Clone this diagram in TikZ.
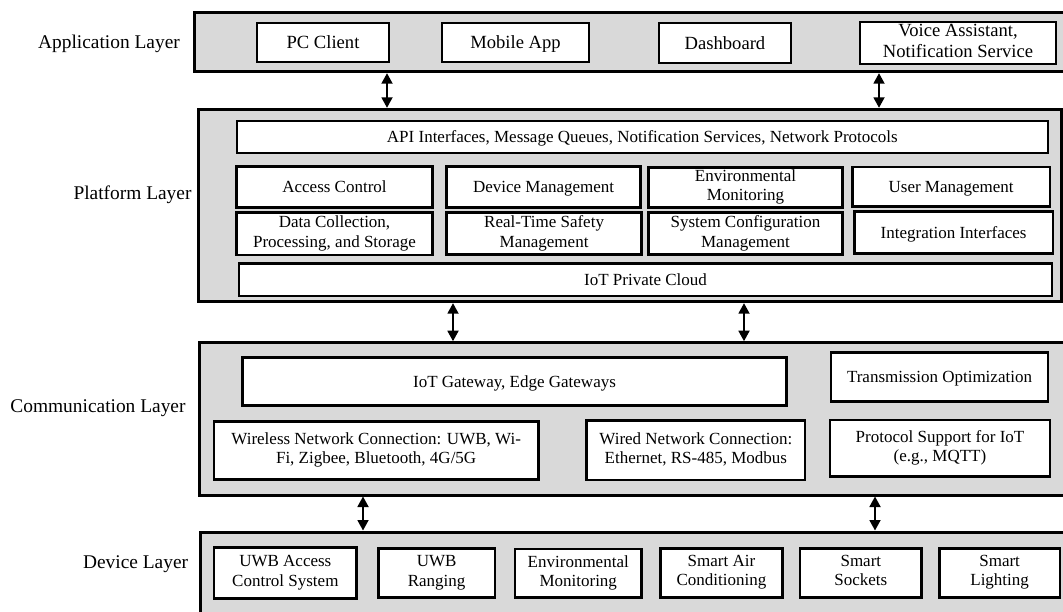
\documentclass[tikz,border=0pt]{standalone}
\usepackage{fontspec}
\setmainfont{Liberation Serif}
\usetikzlibrary{arrows.meta}

% \blk[style]{name}{x1}{y1}{x2}{y2}{text}: a box given by its corners
\newcommand\blk[7][item]{%
  \node[#1,minimum width={(#5-#3)*1pt},minimum height={(#6-#4)*1pt}]
    (#2) at ({(#3+#5)/2},{(#4+#6)/2}) {#7};}
% strut that centres the capitals of a line in its box
\newcommand\tstr{\rule[-0.25em]{0pt}{1.15em}}

\begin{document}
\begin{tikzpicture}[x=1pt,y=-1pt,
  layer/.style={draw=black,line width=3pt,fill=laygray,inner sep=0pt},
  item/.style={draw=black,line width=2.8pt,fill=white,align=center,inner sep=0pt,
    font=\fontsize{17}{19.3}\selectfont,
    execute at begin node=\tstr,execute at end node=\tstr},
  itemthin/.style={item,line width=2pt},
  appitem/.style={itemthin,font=\fontsize{18.6}{20.5}\selectfont},
  side/.style={anchor=base east,inner sep=0pt,font=\fontsize{19.4}{22}\selectfont},
  dar/.style={{Triangle[length=10.5pt,width=11pt]}-{Triangle[length=10.5pt,width=11pt]},line width=1.8pt}]
\definecolor{laygray}{RGB}{217,217,217}

\useasboundingbox (0,0) rectangle (1063,612);
\clip (0,0) rectangle (1063,612);

% ---- layer frames ----
\blk[layer]{app}{194}{12.7}{1068}{71.7}{}
\blk[layer]{plat}{198.3}{109.3}{1061.5}{301.7}{}
\blk[layer]{comm}{199.3}{342.7}{1066}{495}{}
\blk[layer]{dev}{200.7}{532}{1068}{640}{}

% ---- layer names ----
\node[side] (lapp)  at (180,48.5)    {Application Layer};
\node[side] (lplat) at (191.7,199.8) {Platform Layer};
\node[side] (lcomm) at (185.7,412.5) {Communication Layer};
\node[side] (ldev)  at (188.3,568.5) {Device Layer};

% ---- application layer ----
\blk[appitem]{pc}{257}{23}{389}{62.5}{PC Client}
\blk[appitem]{mobile}{442}{23}{589}{62.5}{Mobile App}
\blk[appitem]{dash}{659}{23.3}{791}{63.3}{Dashboard}
\blk[appitem]{voice}{860}{22.5}{1056}{64}{Voice Assistant,\\Notification Service}

% ---- platform layer ----
\blk[itemthin]{api}{236.7}{120.7}{1048}{152.7}{API Interfaces, Message Queues, Notification Services, Network Protocols}
\blk{access}{236.7}{166.7}{432.3}{207.3}{Access Control}
\blk{devmgmt}{446.7}{166.7}{640.5}{207.3}{Device Management}
\blk{envmon}{648.3}{167.5}{842.7}{207.3}{Environmental\\Monitoring}
\blk{usermgmt}{852.3}{167}{1050}{206.5}{User Management}
\blk{datacol}{236.7}{212.7}{432.3}{255}{Data Collection,\\Processing, and Storage}
\blk{safety}{446.7}{212.7}{641.5}{254.5}{Real-Time Safety\\Management}
\blk{sysconf}{648.3}{212.7}{842.7}{254.5}{System Configuration\\Management}
\blk{integ}{854.3}{211.7}{1053}{253.5}{Integration Interfaces}
\blk{cloud}{239}{263.3}{1052}{296}{IoT Private Cloud}

% ---- communication layer ----
\blk{gateway}{242.3}{357.3}{786.7}{405.7}{IoT Gateway, Edge Gateways}
\blk{transopt}{831}{352.3}{1048}{401.7}{Transmission Optimization}
\blk{wireless}{214}{421.5}{538.3}{479.5}{Wireless Network Connection: UWB, Wi-\\Fi, Zigbee, Bluetooth, 4G/5G}
\blk{wired}{586.7}{420.7}{805}{480}{Wired Network Connection:\\Ethernet, RS-485, Modbus}
\blk{proto}{830}{420}{1050}{476.7}{Protocol Support for IoT\\(e.g., MQTT)}

% ---- device layer ----
\blk{uwbacc}{214}{547.5}{356.7}{598.5}{UWB Access\\Control System}
\blk{uwbrng}{378.3}{548.5}{495}{597.5}{UWB\\Ranging}
\blk{devenv}{515}{549}{641.5}{597.5}{Environmental\\Monitoring}
\blk{aircon}{660.7}{548.3}{782.3}{597.3}{Smart Air\\Conditioning}
\blk{sockets}{800}{548.3}{921.7}{597.3}{Smart\\Sockets}
\blk{lighting}{939.3}{548.3}{1060}{597.3}{Smart\\Lighting}

% ---- links between layers ----
\draw[dar] (app.south -| 387,0) -- (plat.north -| 387,0);
\draw[dar] (app.south -| 879,0) -- (plat.north -| 879,0);
\draw[dar] (plat.south -| 453,0) -- (comm.north -| 453,0);
\draw[dar] (plat.south -| 744,0) -- (comm.north -| 744,0);
\draw[dar] (comm.south -| 363,0) -- (dev.north -| 363,0);
\draw[dar] (comm.south -| 875,0) -- (dev.north -| 875,0);
\end{tikzpicture}
\end{document}
